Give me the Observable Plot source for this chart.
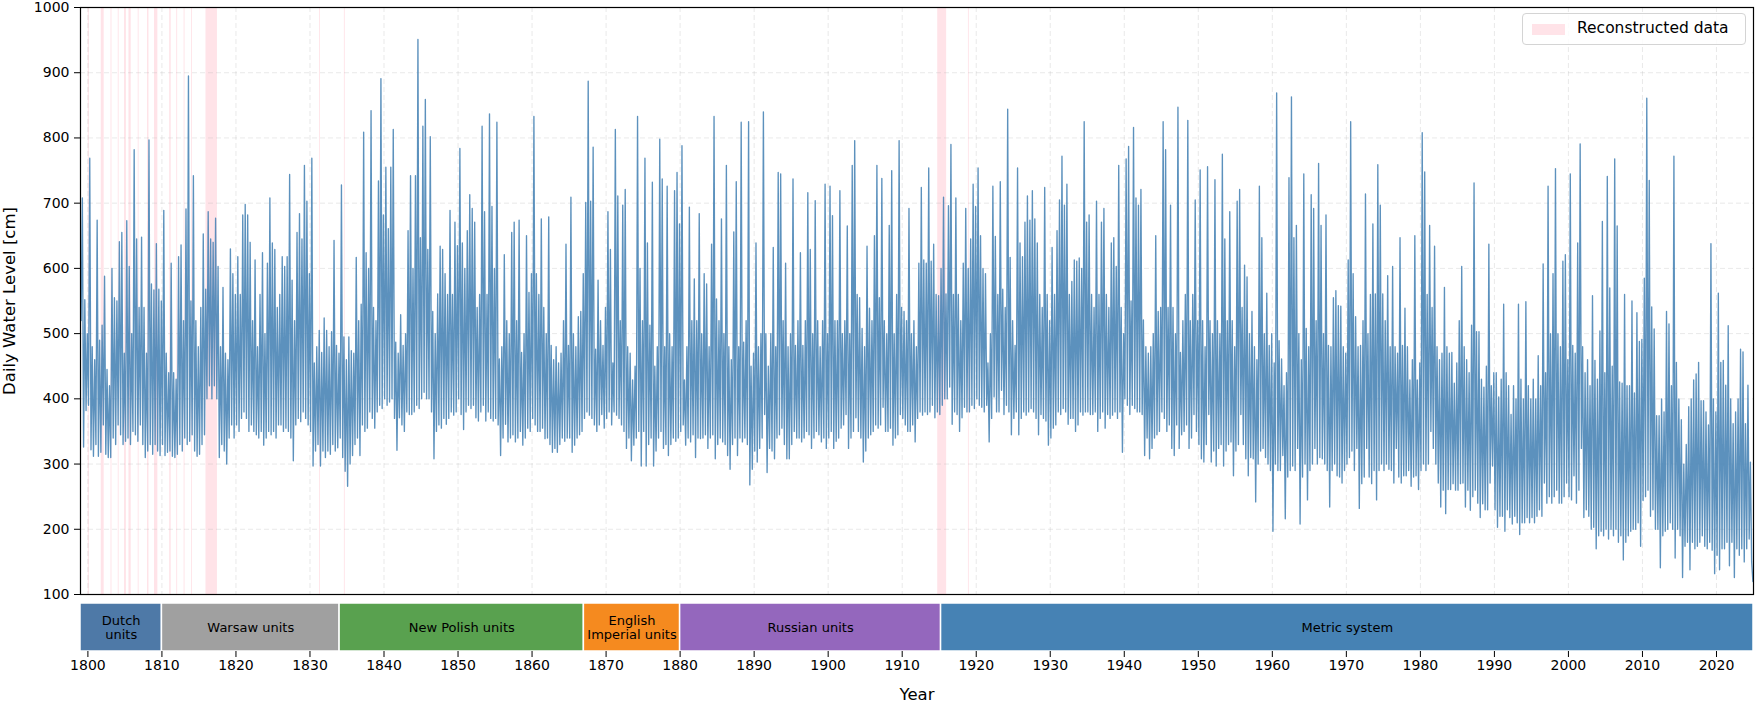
<!DOCTYPE html>
<html><head><meta charset="utf-8">
<script src="https://cdn.jsdelivr.net/npm/d3@7"></script>
<script src="https://cdn.jsdelivr.net/npm/@observablehq/plot@0.6"></script>
<style>
body{margin:0;background:#fff;font-family:"DejaVu Sans",sans-serif;}
#wrap{position:relative;width:1755px;height:702px;overflow:hidden;background:#fff;}
svg{display:block;overflow:visible;}
#main{position:relative;z-index:2;}
#strip{position:relative;z-index:1;}
#main [aria-label="y-axis label"] text{font-size:16.5px !important;}
#strip [aria-label="x-axis label"] text{font-size:16.5px !important;}
#legend{position:absolute;z-index:3;left:1522px;top:13px;width:222px;height:30px;border:1px solid #d4d4d4;border-radius:4px;background:rgba(255,255,255,0.85);font:15.5px "DejaVu Sans",sans-serif;color:#000;}
#legend .sw{position:absolute;left:9px;top:10px;width:33px;height:11px;background:rgba(255,192,203,0.45);}
#legend .tx{position:absolute;left:54px;top:5px;white-space:nowrap;}
</style></head>
<body><div id="wrap"><div id="main"></div><div id="strip"></div>
<div id="legend"><div class="sw"></div><div class="tx">Reconstructed data</div></div></div>
<script>
const startYear = 1799, endYear = 2025;
// six samples per year: trough, peak, trough, peak, trough, peak
const levelsByYear = [
[520,708,326,552,382,500],[390,769,322,480,312,460],[330,674,312,490,318,513],[360,588,315,445,310,420],[310,600,340,555,330,550],
[360,641,345,655,330,470],[335,673,340,603,330,500],[350,782,345,645,335,540],[360,648,330,540,310,470],[320,797,330,576,315,567],
[330,638,320,568,313,550],[330,689,313,470,318,440],[320,608,312,440,310,430],[315,618,330,636,320,520],[340,691,330,895,335,550],
[345,742,320,520,312,480],[315,540,330,653,345,568],[400,687,420,645,400,640],[420,677,400,603,310,480],[330,571,320,470,300,460],
[340,630,360,592,340,560],[360,618,350,560,370,682],[380,698,370,682,350,640],[360,520,350,613,345,480],[340,560,350,624,329,500],
[340,608,350,708,345,639],[350,629,340,540,360,560],[360,618,350,603,355,618],[350,744,340,582,305,520],[360,655,370,684,365,645],
[380,758,370,703,360,592],[350,769,297,455,320,480],[330,505,297,471,320,524],[310,505,320,480,315,503],[330,643,320,482,325,470],
[340,728,310,495,289,460],[266,495,300,474,313,470],[330,617,340,520,313,545],[360,809,350,624,355,600],[380,842,370,540,355,520],
[380,734,390,891,385,682],[400,755,390,661,395,755],[400,813,370,487,321,470],[371,529,360,482,350,500],[380,658,376,742,376,600],
[380,742,390,951,385,647],[400,818,410,859,400,629],[400,802,380,534,308,500],[350,561,360,634,355,629],[370,592,361,560,370,689],
[380,560,375,671,380,635],[400,784,376,639,353,600],[380,658,390,713,385,692],[390,671,371,540,366,560],[380,818,390,687,366,560],
[380,837,370,695,366,600],[370,824,360,461,313,480],[340,621,361,520,334,500],[340,655,345,671,334,520],[340,674,350,471,329,500],
[340,650,355,563,350,592],[370,833,360,592,350,560],[350,676,355,540,339,500],[340,679,330,482,318,460],[324,480,318,455,330,470],
[340,520,335,637,340,482],[340,709,318,500,329,480],[340,526,345,534,350,592],[370,701,380,887,375,703],[370,786,360,476,350,582],
[360,520,376,482,355,540],[370,687,380,629,360,455],[380,813,375,711,370,520],[360,697,350,721,324,480],[340,470,305,429,329,450],
[340,833,350,600,297,520],[350,769,297,639,330,513],[340,732,297,450,320,480],[340,798,350,737,324,480],[330,726,313,500,330,480],
[340,719,335,747,340,668],[350,788,360,429,329,480],[340,694,334,520,345,584],[310,520,340,684,339,500],[340,592,345,576,324,480],
[340,637,345,833,308,553],[330,520,340,676,334,500],[330,758,313,480,292,460],[330,656,340,733,313,480],[340,824,334,487,340,520],
[330,825,268,450,292,470],[320,639,303,480,324,500],[340,840,376,500,287,450],[324,500,320,632,308,480],[340,747,345,745,355,520],
[330,608,308,480,308,500],[330,737,350,482,340,520],[340,624,334,482,340,520],[350,716,345,629,324,500],[340,704,350,520,345,480],
[334,520,340,729,324,500],[340,726,350,681,324,520],[335,520,340,719,355,500],[360,520,376,665,324,500],[340,758,350,796,371,560],
[350,555,340,508,303,480],[320,634,340,539,345,520],[350,650,360,758,355,555],[360,738,387,520,350,500],[350,666,355,750,329,500],
[340,560,345,796,376,540],[370,534,360,520,350,692],[350,500,360,520,334,480],[370,608,380,724,375,613],[380,608,376,754,380,611],
[390,637,371,560,380,558],[376,600,390,709,400,561],[400,696,418,790,361,560],[380,708,376,560,350,520],[371,608,387,692,380,600],
[380,645,390,729,385,695],[400,754,390,650,387,600],[380,592,390,455,334,500],[370,726,403,649,380,560],[380,733,413,568,376,540],
[390,844,380,617,345,520],[370,482,380,754,345,639],[370,618,380,671,375,711],[380,674,385,719,380,676],[370,639,345,560,376,540],
[370,724,366,560,329,520],[340,632,355,560,360,658],[380,705,376,772,385,697],[380,729,361,560,370,580],[370,613,350,611,360,616],
[380,600,375,825,380,671],[380,682,376,560,376,540],[380,703,350,560,370,671],[380,692,355,560,376,540],[370,639,375,647,380,603],
[370,758,380,540,318,500],[400,768,390,787,376,550],[390,816,385,708,380,697],[380,721,376,521,313,480],[340,470,308,480,324,500],
[340,650,345,534,350,540],[380,825,370,782,350,540],[360,697,324,540,313,500],[360,847,324,471,345,520],[350,560,360,827,324,520],
[340,560,376,705,350,520],[330,751,308,520,303,480],[330,756,376,520,303,500],[320,736,297,520,324,500],[330,775,297,645,320,520],
[330,687,334,520,282,480],[320,703,330,721,376,540],[330,605,308,587,282,500],[310,534,308,480,242,460],[300,726,320,647,324,500],
[310,562,300,482,290,500],[197,455,300,869,290,489],[290,461,313,420,216,440],[280,739,290,863,297,647],[290,666,324,500,208,460],
[280,745,300,508,245,480],[290,713,300,692,324,520],[300,761,310,666,308,500],[300,682,290,482,234,480],[290,555,300,566,282,543],
[280,542,271,480,290,470],[300,613,310,825,320,592],[290,526,324,480,232,482],[270,520,280,714,324,500],[280,560,270,668,290,561],
[245,759,290,697,300,561],[290,520,300,589,292,480],[290,603,271,480,324,470],[280,647,271,482,282,539],[282,480,290,429,266,460],
[280,650,282,429,261,455],[290,808,300,748,290,560],[300,666,350,540,324,634],[300,480,271,460,234,470],[260,571,224,480,261,470],
[261,471,270,424,260,455],[260,520,270,603,271,480],[234,460,260,440,229,513],[250,731,260,503,240,503],[218,430,239,418,230,450],
[230,637,271,420,297,440],[230,440,203,403,220,430],[220,545,197,440,230,420],[218,376,208,420,220,400],[210,545,192,430,210,400],
[210,549,218,420,210,400],[218,430,210,400,220,466],[230,420,220,607,271,440],[240,726,250,500,240,592],[250,753,260,500,240,480],
[240,611,250,621,271,460],[250,745,245,482,282,470],[240,639,260,791,324,480],[218,440,230,460,220,420],[200,558,203,459,170,430],
[190,504,197,672,190,440],[200,741,185,570,200,450],[190,768,200,665,180,426],[190,424,153,560,180,420],[190,420,197,550,200,409],
[200,532,210,488,174,491],[244,585,250,861,260,735],[220,541,230,507,200,374],[200,374,141,400,190,380],[197,534,200,515,210,420],
[200,772,156,456,200,400],[190,368,126,300,174,330],[180,388,138,400,180,429],[170,438,174,456,180,397],[190,397,174,380,170,360],
[180,638,168,400,132,380],[160,562,138,456,170,459],[170,421,180,512,144,400],[180,362,126,380,170,400],[160,476,170,472,150,362],
[170,421,185,303,150,120]
];
const reconstructedStart = [1800.05,1801.8,1803.12,1804.1,1804.95,1805.55,1806.8,1808.05,1809.0,1811.05,1812.0,1813.0,1814.0,1815.95,1831.3,1834.65,1914.8,1918.95];
const reconstructedEnd   = [1800.2,1802.2,1803.25,1804.22,1805.2,1805.85,1806.92,1808.25,1809.45,1811.25,1812.12,1813.12,1814.12,1817.5,1831.42,1834.77,1916.0,1919.07];
const unitNames  = ["Dutch\nunits","Warsaw units","New Polish units","English\nImperial units","Russian units","Metric system"];
const unitStart  = [1799,1810,1834,1867,1880,1915.25];
const unitEnd    = [1810,1834,1867,1880,1915.25,2025];
const unitColors = ["#4e79a7","#a0a0a0","#59a14f","#f58a1f","#9467bd","#4682b4"];
const decadeTicks = d3.range(1800, 2021, 10);
const levelTicks = d3.range(100, 1001, 100);

const series = levelsByYear.flatMap((row, yi) => row.map((v, k) => ({t: startYear + yi + (k + 0.5) / row.length, v})));
const reconstructed = reconstructedStart.map((s, i) => ({start: s, end: reconstructedEnd[i]}));
const units = unitNames.map((n, i) => ({name: n, start: unitStart[i], end: unitEnd[i], color: unitColors[i]}));

const gridStyle = {stroke: "#b0b0b0", strokeOpacity: 0.35, strokeDasharray: "5,3", strokeWidth: 0.8};

const main = Plot.plot({
  width: 1755, height: 600, marginLeft: 80, marginRight: 2, marginTop: 7, marginBottom: 6,
  style: {fontFamily: "DejaVu Sans", fontSize: "14px", color: "black", background: "transparent", overflow: "visible"},
  x: {domain: [startYear, endYear], axis: null},
  y: {domain: [100, 1000]},
  marks: [
    Plot.rect(reconstructed, {x1: "start", x2: "end", fill: "#ffc0cb", fillOpacity: 0.45}),
    Plot.gridX(decadeTicks, gridStyle),
    Plot.gridY(levelTicks.slice(1, -1), gridStyle),
    Plot.line(series, {x: "t", y: "v", stroke: "#4682b4", strokeOpacity: 0.88, strokeWidth: 1.35}),
    Plot.axisY(levelTicks, {tickFormat: "d", tickSize: 6, tickPadding: 5, fontSize: 14,
      label: "Daily Water Level [cm]", labelAnchor: "center", labelArrow: "none"}),
    Plot.frame({stroke: "black", strokeWidth: 1.2})
  ]
});
document.getElementById("main").appendChild(main);

const strip = Plot.plot({
  width: 1755, height: 102, marginLeft: 80, marginRight: 2, marginTop: 3, marginBottom: 51,
  style: {fontFamily: "DejaVu Sans", fontSize: "14px", color: "black", background: "transparent"},
  x: {domain: [startYear, endYear]},
  color: {type: "identity"},
  marks: [
    Plot.rect(units, {x1: "start", x2: "end", fill: "color", stroke: "white", strokeWidth: 1.5}),
    Plot.text(units, {x: d => (d.start + d.end) / 2, text: "name", frameAnchor: "middle", fontSize: 13, fill: "black", lineHeight: 1.1}),
    Plot.axisX(decadeTicks, {tickFormat: "d", tickSize: 6, tickPadding: 3, fontSize: 14,
      label: "Year", labelAnchor: "center", labelArrow: "none", labelOffset: 48})
  ]
});
document.getElementById("strip").appendChild(strip);
</script>
</body></html>
